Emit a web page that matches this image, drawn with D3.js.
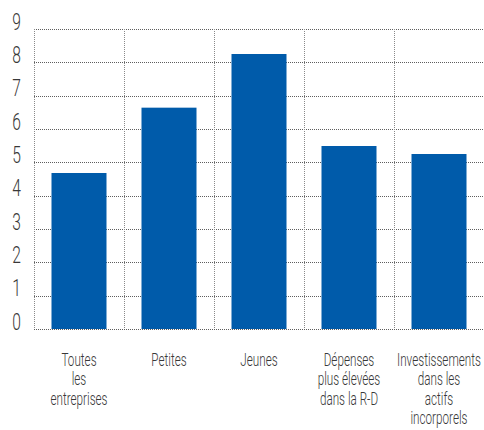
<!DOCTYPE html>
<html>
<head>
<meta charset="utf-8">
<script src="https://cdn.jsdelivr.net/npm/d3@7"></script>
<style>
  html, body { margin: 0; padding: 0; background: #fff; }
  svg { display: block; }
  text { font-family: Roboto, "DejaVu Sans Condensed", sans-serif; font-weight: 300; fill: #383838; }
</style>
</head>
<body>
<div id="chart"></div>
<script>
// Categories (multi-line labels) and their values
const categories = [
  ["Toutes", "les", "entreprises"],
  ["Petites"],
  ["Jeunes"],
  ["Dépenses", "plus élevées", "dans la R-D"],
  ["Investissements", "dans les", "actifs", "incorporels"]
];
const values = [4.68, 6.64, 8.25, 5.49, 5.25];
const yTicks = [0, 1, 2, 3, 4, 5, 6, 7, 8, 9];

const width = 484, height = 430;
const margin = { top: 29, right: 0, bottom: 101, left: 34 };
const plotW = 450, plotH = height - margin.top - margin.bottom;
const condense = 0.65;   // horizontal squeeze for a condensed typeface look

const svg = d3.select("#chart").append("svg")
  .attr("width", width).attr("height", height);

const g = svg.append("g").attr("transform", `translate(${margin.left},${margin.top})`);

const x = d3.scaleBand()
  .domain(d3.range(categories.length))
  .range([0, plotW])
  .paddingInner(0.3889)
  .paddingOuter(0.1944);

const y = d3.scaleLinear().domain([0, 9]).range([plotH, 0]);

// Horizontal dotted grid
g.append("g").selectAll("line").data(yTicks).join("line")
  .attr("x1", 0).attr("x2", plotW)
  .attr("y1", d => Math.round(y(d)) + 0.5).attr("y2", d => Math.round(y(d)) + 0.5)
  .attr("stroke", "#5e5e5e").attr("stroke-width", 1).attr("stroke-dasharray", "1,1");

// Vertical dotted grid at band boundaries
const bounds = d3.range(categories.length + 1).map(i => i * x.step());
g.append("g").selectAll("line").data(bounds).join("line")
  .attr("x1", d => Math.round(d) + 0.5).attr("x2", d => Math.round(d) + 0.5)
  .attr("y1", 0).attr("y2", plotH)
  .attr("stroke", "#8a8a8a").attr("stroke-width", 1).attr("stroke-dasharray", "1,1");

// Bars
g.append("g").selectAll("rect").data(values).join("rect")
  .attr("x", (d, i) => x(i))
  .attr("width", x.bandwidth())
  .attr("y", d => y(d))
  .attr("height", d => plotH - y(d))
  .attr("fill", "#005BAA");

// Y-axis labels
const yAxis = d3.axisLeft(y).tickValues(yTicks).tickSize(0).tickPadding(0).tickFormat(d3.format("d"));
const ya = g.append("g").call(yAxis);
ya.select(".domain").remove();
ya.selectAll(".tick").attr("transform", d => `translate(-17.5,${y(d) + 0.5}) scale(${condense},1)`);
ya.selectAll("text")
  .attr("x", 0).attr("dy", 0)
  .attr("text-anchor", "middle")
  .style("font-size", "24px")
  .style("font-family", "Roboto, sans-serif")
  .style("font-weight", 300)
  .style("fill", "#383838");

// Category labels
const lab = g.append("g").attr("transform", `translate(0,${plotH})`);
categories.forEach((lines, i) => {
  const t = lab.append("text")
    .attr("text-anchor", "middle")
    .attr("transform", `translate(${x(i) + x.bandwidth() / 2},37) scale(${condense},1)`)
    .style("font-size", "18px");
  lines.forEach((ln, j) => {
    t.append("tspan").attr("x", 0).attr("dy", j === 0 ? 0 : 19.5).text(ln);
  });
});
</script>
</body>
</html>
